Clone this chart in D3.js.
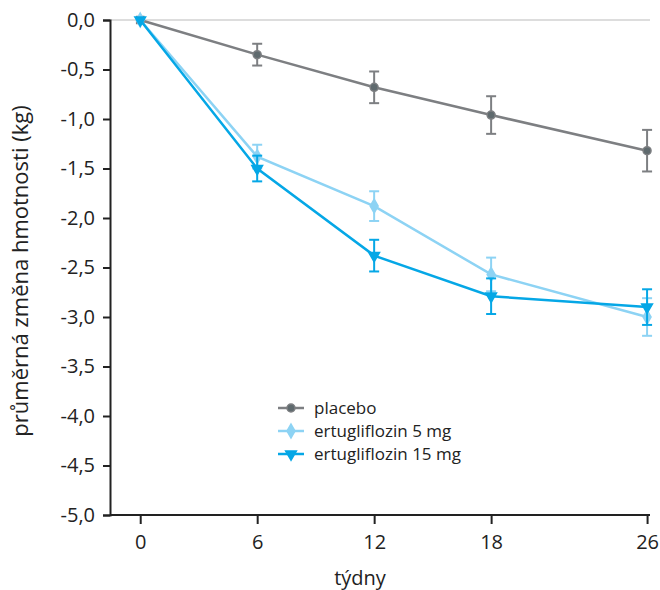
<!DOCTYPE html>
<html>
<head>
<meta charset="utf-8">
<script src="https://cdn.jsdelivr.net/npm/d3@7"></script>
<style>
	body { margin: 0; background: #fff; }
	text { font-family: "Open Sans", "Noto Sans", sans-serif; fill: #222; }
</style>
</head>
<body>
<div id="chart"></div>
<script>
// weeks on the x axis
var weeks = [0, 6, 12, 18, 26];
var yTicks = [0, -0.5, -1, -1.5, -2, -2.5, -3, -3.5, -4, -4.5, -5];

// mean change and error half-width, per series
var placebo     = [0, -0.35, -0.68, -0.96, -1.32];
var placeboErr  = [0, 0.11, 0.16, 0.19, 0.21];
var ertu5       = [0, -1.38, -1.88, -2.57, -3.00];
var ertu5Err    = [0, 0.12, 0.15, 0.17, 0.19];
var ertu15      = [0, -1.50, -2.38, -2.79, -2.90];
var ertu15Err   = [0, 0.13, 0.16, 0.18, 0.18];

var seriesNames = ["placebo", "ertugliflozin 5 mg", "ertugliflozin 15 mg"];

var series = [
	{name: seriesNames[0], values: placebo, err: placeboErr, color: "#7d7f82", symbol: d3.symbolCircle, size: 50},
	{name: seriesNames[1], values: ertu5, err: ertu5Err, color: "#8dd3f4", symbol: d3.symbolDiamond, size: 55},
	{name: seriesNames[2], values: ertu15, err: ertu15Err, color: "#05a7e6", symbol: d3.symbolTriangle, size: 50}
];

var width = 660, height = 590;
var svg = d3.select("#chart").append("svg")
	.attr("width", width)
	.attr("height", height);

var x = d3.scaleLinear().domain([-1.55, 26.15]).range([110, 650]);
var y = d3.scaleLinear().domain([-5, 0]).range([515, 20]);

var fmt = function(d) { return d3.format(".1f")(d).replace(".", ",").replace("−", "-"); };

// reference line at zero
svg.append("line")
	.attr("x1", x(-1.55)).attr("x2", x(26.15))
	.attr("y1", y(0)).attr("y2", y(0))
	.attr("stroke", "#bbb")
	.attr("stroke-width", 1);

// y axis
var yAxis = svg.append("g")
	.attr("transform", "translate(110,0)")
	.call(d3.axisLeft(y).tickValues(yTicks).tickFormat(fmt).tickSize(7).tickPadding(8));
yAxis.select(".domain").attr("stroke", "#222").attr("stroke-width", 2);
yAxis.selectAll(".tick line").attr("stroke", "#222").attr("stroke-width", 2);
yAxis.selectAll("text").style("font-size", "20px").attr("fill", "#222");

// x axis
var xAxis = svg.append("g")
	.attr("transform", "translate(0,515)")
	.call(d3.axisBottom(x).tickValues(weeks).tickSize(9).tickPadding(11));
xAxis.select(".domain").attr("d", "M110,0H650").attr("stroke", "#222").attr("stroke-width", 2);
xAxis.selectAll(".tick line").attr("stroke", "#222").attr("stroke-width", 2);
xAxis.selectAll("text").style("font-size", "20px").attr("fill", "#222");

// axis titles
svg.append("text")
	.attr("x", 360).attr("y", 585)
	.attr("text-anchor", "middle")
	.style("font-size", "20px")
	.text("týdny");

svg.append("text")
	.attr("transform", "translate(28,271) rotate(-90)")
	.attr("text-anchor", "middle")
	.style("font-size", "22px")
	.text("průměrná změna hmotnosti (kg)");

var line = d3.line()
	.x(function(d, i) { return x(weeks[i]); })
	.y(function(d) { return y(d); });

series.forEach(function(s) {
	var g = svg.append("g");

	g.append("path")
		.datum(s.values)
		.attr("d", line)
		.attr("fill", "none")
		.attr("stroke", s.color)
		.attr("stroke-width", 2.5);

	// error bars
	s.values.forEach(function(v, i) {
		if (s.err[i] === 0) return;
		var cx = x(weeks[i]);
		var top = y(v + s.err[i]), bot = y(v - s.err[i]);
		g.append("line").attr("x1", cx).attr("x2", cx).attr("y1", top).attr("y2", bot)
			.attr("stroke", s.color).attr("stroke-width", 2);
		[top, bot].forEach(function(yy) {
			g.append("line").attr("x1", cx - 5).attr("x2", cx + 5).attr("y1", yy).attr("y2", yy)
				.attr("stroke", s.color).attr("stroke-width", 2);
		});
	});

	// markers
	s.values.forEach(function(v, i) {
		var sym = s.symbol;
		if (i === 0 && s.name === "placebo") sym = d3.symbolSquare;
		var rot = s.symbol === d3.symbolTriangle ? " rotate(180)" : "";
		g.append("path")
			.attr("d", d3.symbol().type(sym).size(s.size))
			.attr("transform", "translate(" + x(weeks[i]) + "," + y(v) + ")" + rot)
			.attr("fill", s.name === "placebo" ? "#5f6a6e" : s.color)
			.attr("stroke", s.color)
			.attr("stroke-width", 1.5);
	});
});

// legend
var legend = svg.append("g").attr("transform", "translate(278,408)");
series.forEach(function(s, i) {
	var row = legend.append("g").attr("transform", "translate(0," + (i * 23) + ")");
	row.append("line").attr("x1", 0).attr("x2", 26).attr("y1", 0).attr("y2", 0)
		.attr("stroke", s.color).attr("stroke-width", 2.5);
	var rot = s.symbol === d3.symbolTriangle ? " rotate(180)" : "";
	row.append("path")
		.attr("d", d3.symbol().type(s.symbol).size(s.size))
		.attr("transform", "translate(13,0)" + rot)
		.attr("fill", s.name === "placebo" ? "#5f6a6e" : s.color)
		.attr("stroke", s.color)
		.attr("stroke-width", 1.5);
	row.append("text")
		.attr("x", 36).attr("y", 6)
		.style("font-size", "17px")
		.text(s.name);
});
</script>
</body>
</html>
